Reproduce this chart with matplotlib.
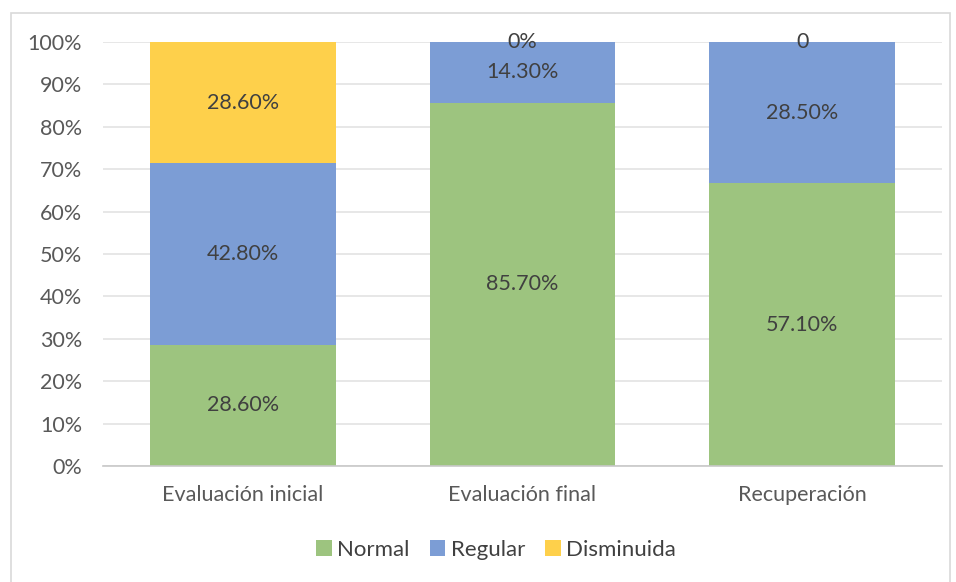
import numpy as np
import matplotlib.pyplot as plt
from matplotlib.patches import Rectangle

categories = ["Evaluación inicial", "Evaluación final", "Recuperación"]
normal = [28.6, 85.7, 57.1]
regular = [42.8, 14.3, 28.5]
disminuida = [28.6, 0.0, 0.0]
series_names = ["Normal", "Regular", "Disminuida"]
# data label text per series (Excel showed the last zero without a % sign)
label_text = [
    ["28.60%", "85.70%", "57.10%"],
    ["42.80%", "14.30%", "28.50%"],
    ["28.60%", "0%", "0"],
]
colors = ["#9dc47f", "#7c9dd5", "#fed04b"]

plt.rcParams['font.family'] = ['Lato', 'DejaVu Sans']
FS = 15.5

fig = plt.figure(figsize=(9.56, 5.82), dpi=100)
ax = fig.add_axes([103 / 956, 116 / 582, 839 / 956, 424 / 582])

data = np.array([normal, regular, disminuida])
totals = data.sum(axis=0)
shares = data / totals * 100
x = np.arange(len(categories))

bottom = np.zeros(len(categories))
for i, name in enumerate(series_names):
    ax.bar(x, shares[i], 0.665, bottom=bottom, color=colors[i], label=name, zorder=2)
    for j in range(len(categories)):
        yc = bottom[j] + shares[i][j] / 2
        ax.text(x[j], yc, label_text[i][j], ha="center", va="center",
                fontsize=FS, color="#404040", zorder=3)
    bottom += shares[i]

ax.set_xlim(-0.5, 2.5)
ax.set_ylim(0, 100)
ax.set_yticks(np.arange(0, 101, 10))
ax.set_yticklabels([f"{v}%" for v in range(0, 101, 10)])
ax.set_xticks(x)
ax.set_xticklabels(categories)
ax.tick_params(axis="both", length=0, labelsize=FS, labelcolor="#595959")
ax.tick_params(axis="x", pad=14)
ax.tick_params(axis="y", pad=15)
ax.grid(axis="y", color="#e3e3e3", linewidth=1.2, zorder=0)
for side in ["top", "right", "left"]:
    ax.spines[side].set_visible(False)
ax.spines["bottom"].set_color("#c8c8c8")
ax.spines["bottom"].set_linewidth(1.2)

ax.legend(loc="center", bbox_to_anchor=(496 / 956, 32 / 582), bbox_transform=fig.transFigure,
          ncol=3, frameon=False, fontsize=16, handlelength=0.7, handleheight=0.7,
          handletextpad=0.25, columnspacing=0.9, labelcolor="#404040")

# chart frame
fig.patches.append(Rectangle((11 / 956, -0.01), 939 / 956, 569 / 582 + 0.01,
                             transform=fig.transFigure, fill=False,
                             edgecolor="#d9d9d9", linewidth=1.2))

fig.savefig("out.png", dpi=100)
